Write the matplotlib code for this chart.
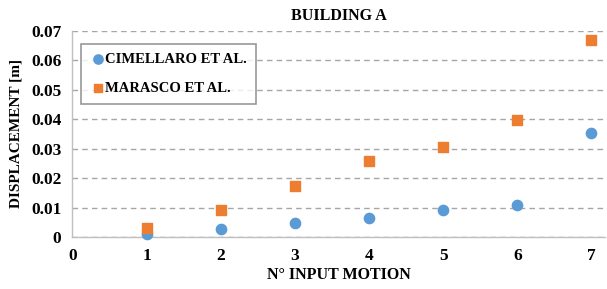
import matplotlib.pyplot as plt

motion = [1, 2, 3, 4, 5, 6, 7]
cimellaro = [0.001, 0.0027, 0.0049, 0.0065, 0.009, 0.011, 0.0353]
marasco = [0.0031, 0.0091, 0.0174, 0.0257, 0.0305, 0.0399, 0.067]

plt.rcParams['font.family'] = ['Liberation Serif', 'DejaVu Serif']
plt.rcParams['font.weight'] = 'bold'

fig = plt.figure(figsize=(6.07, 2.89), dpi=100)
ax = fig.add_axes([0.1194, 0.18, 0.877, 0.7127])

ax.scatter(motion, cimellaro, marker='o', s=55, color='#5B9BD5', label='CIMELLARO ET AL.',
           zorder=3, clip_on=False)
ax.scatter(motion, marasco, marker='s', s=42, color='#ED7D31', label='MARASCO ET AL.',
           zorder=3, clip_on=False)

ax.set_xlim(0, 7.18)
ax.set_ylim(0, 0.07)
ax.set_xticks(range(0, 8))
ax.set_yticks([0, 0.01, 0.02, 0.03, 0.04, 0.05, 0.06, 0.07])
ax.set_yticklabels(['0', '0.01', '0.02', '0.03', '0.04', '0.05', '0.06', '0.07'])
ax.tick_params(axis='both', length=0, labelsize=12.5, pad=8)
for lab in ax.get_xticklabels() + ax.get_yticklabels():
    lab.set_fontweight('bold')

ax.yaxis.grid(True, linestyle=(0, (4, 3)), color='#a6a6a6', linewidth=1)
ax.set_axisbelow(True)
for s in ['top', 'right']:
    ax.spines[s].set_visible(False)
for s in ['left', 'bottom']:
    ax.spines[s].set_color('#bfbfbf')
    ax.spines[s].set_linewidth(1)

ax.set_title('BUILDING A', fontsize=11.5, fontweight='bold', pad=8)
ax.set_xlabel('N° INPUT MOTION', fontsize=11.5, fontweight='bold', labelpad=2)
ax.set_ylabel('DISPLACEMENT [m]', fontsize=11, fontweight='bold', labelpad=6)

leg = ax.legend(loc='upper left', bbox_to_anchor=(0.008, 0.96), fontsize=10.5, frameon=True,
                fancybox=False, edgecolor='#7f7f7f', handletextpad=0.0, labelspacing=1.05,
                borderpad=0.65, handlelength=1.0, markerscale=0.9, borderaxespad=0.3)
leg.get_frame().set_linewidth(1.2)
for t in leg.get_texts():
    t.set_fontweight('bold')

fig.savefig('out.png', dpi=100)
